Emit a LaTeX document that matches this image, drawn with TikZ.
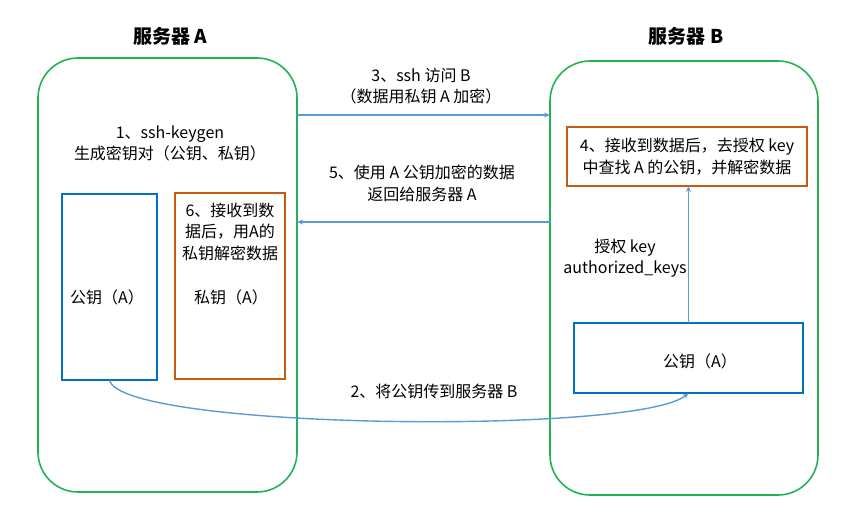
\documentclass[tikz,border=0pt]{standalone}
\usepackage{fontspec}
\setmainfont{Noto Sans CJK SC}
\usetikzlibrary{arrows.meta}
\definecolor{srvgreen}{RGB}{34,178,84}
\definecolor{keyblue}{RGB}{0,112,192}
\definecolor{boxorange}{RGB}{197,90,17}
\definecolor{arrblue}{RGB}{91,155,213}

\begin{document}
\begin{tikzpicture}[x=1pt,y=-1pt,
	server/.style={draw=srvgreen,line width=1.6pt,rounded corners=40pt,inner sep=0pt,outer sep=0pt},
	pubbox/.style={draw=keyblue,line width=1.2pt,inner sep=0pt,outer sep=0pt},
	privbox/.style={draw=boxorange,line width=1.2pt,inner sep=0pt,outer sep=0pt},
	arr/.style={draw=arrblue,line width=1.4pt,-{Stealth[length=6pt,width=5pt]}},
	txt/.style={font=\fontsize{16}{21.5}\selectfont,align=center,inner sep=0pt},
	title/.style={font=\fontsize{19}{22}\selectfont\bfseries,inner sep=0pt}]
					\useasboundingbox (0,0) rectangle (855,532);
					\node[title] (titleA) at (170,36) {服务器 A};
					\node[title] (titleB) at (686,36) {服务器 B};
					\node[server,minimum width=259pt,minimum height=434pt] (srvA) at (167.5,275) {};
					\node[server,minimum width=268pt,minimum height=434pt] (srvB) at (684,278) {};
					\node[txt] (gen) at (170,143.5) {1、ssh-keygen\\生成密钥对（公钥、私钥）};
					\node[pubbox,minimum width=95pt,minimum height=186pt] (pubA) at (109.5,287) {};
					\node[txt] (pubAtxt) at (107,297) {公钥（A）};
					\node[privbox,minimum width=110pt,minimum height=186pt] (privA) at (230,286) {};
					\node[txt] (decrypt) at (230,231.5) {6、接收到数\\据后，用A的\\私钥解密数据};
					\node[txt] (privAtxt) at (231,297) {私钥（A）};
					\node[privbox,txt,minimum width=240pt,minimum height=59pt] (lookup) at (687,156.5) {4、接收到数据后，去授权 key\\中查找 A 的公钥，并解密数据};
					\node[pubbox,minimum width=229pt,minimum height=70pt] (pubB) at (688.5,358) {};
					\node[txt] (pubBtxt) at (700,361) {公钥（A）};
					\node[txt] (authkeys) at (625,258) {授权 key\\authorized\_keys};
					\node[txt] (step3) at (421,86) {3、ssh 访问 B\\（数据用私钥 A 加密）};
					\node[txt] (step5) at (422,183.5) {5、使用 A 公钥加密的数据\\返回给服务器 A};
					\node[txt] (step2) at (434,391) {2、将公钥传到服务器 B};
					\coordinate (row3) at (0,115);
					\coordinate (row5) at (0,222);
					\draw[arr] (srvA.east |- row3) -- (srvB.west |- row3);
					\draw[arr] (srvB.west |- row5) -- (srvA.east |- row5);
					\draw[arr] (pubB.north) -- (pubB.north |- lookup.south);
					\draw[arr] (pubA.south) .. controls (120,430) and (640,435) .. (pubB.south);
				\end{tikzpicture}
\end{document}
